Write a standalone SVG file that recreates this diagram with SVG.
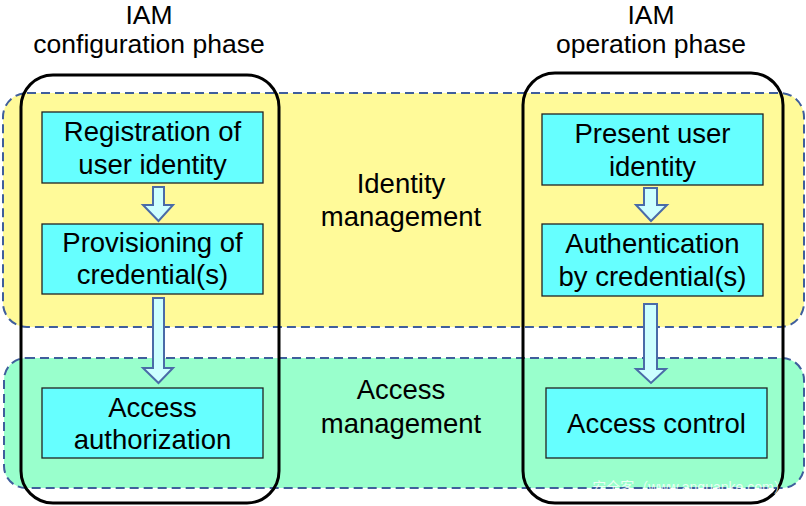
<svg xmlns="http://www.w3.org/2000/svg" width="806" height="506" viewBox="0 0 806 506">
<style>
.band{stroke:#3F5E9C;stroke-width:2;stroke-dasharray:9,5}
.phase{fill:none;stroke:#000;stroke-width:3}
.box{fill:#66FFFF;stroke:#222;stroke-width:1.3}
.arr{fill:#CCFFFF;stroke:#4A6BA8;stroke-width:2;stroke-linejoin:miter}
text{font-family:"Liberation Sans",Arial,sans-serif;fill:#000;text-anchor:middle}
.t{font-size:26.5px}
.b{font-size:27.5px}
</style>
<rect x="0" y="0" width="806" height="506" fill="#fff"/>
<g id="identity-management">
<rect class="band" x="3" y="93" width="801" height="234" rx="24" fill="#FFFA99"/>
<text class="b" x="401" y="193">Identity</text>
<text class="b" x="401" y="226">management</text>
</g>
<g id="access-management">
<rect class="band" x="4" y="358" width="800" height="130" rx="22" fill="#99FFCC"/>
<text class="b" x="401" y="399">Access</text>
<text class="b" x="401" y="433">management</text>
</g>
<g id="configuration-phase">
<rect class="phase" x="21" y="75" width="258" height="428" rx="32"/>
<text class="t" x="149" y="24">IAM</text>
<text class="t" x="149" y="53">configuration phase</text>
</g>
<g id="operation-phase">
<rect class="phase" x="523" y="73" width="260" height="430" rx="32"/>
<text class="t" x="651" y="24">IAM</text>
<text class="t" x="651" y="53">operation phase</text>
</g>
<g id="connectors">
<polygon class="arr" points="153,187 164,187 164,205 173,205 158.5,221 143,205 153,205"/>
<polygon class="arr" points="153,298 164,298 164,368 173,368 158.5,383 143,368 153,368"/>
<polygon class="arr" points="644,188 657,188 657,205 667,205 651,221 636,205 644,205"/>
<polygon class="arr" points="644,304 657,304 657,369 666,369 651,383 636,369 644,369"/>
</g>
<g id="registration">
<rect class="box" x="42" y="112" width="221" height="71"/>
<text class="b" x="152.5" y="141">Registration of</text>
<text class="b" x="152.5" y="174">user identity</text>
</g>
<g id="provisioning">
<rect class="box" x="42" y="224" width="221" height="70"/>
<text class="b" x="152.5" y="252">Provisioning of</text>
<text class="b" x="152.5" y="284">credential(s)</text>
</g>
<g id="access-authorization">
<rect class="box" x="42" y="388" width="221" height="70"/>
<text class="b" x="152.5" y="417">Access</text>
<text class="b" x="152.5" y="449">authorization</text>
</g>
<g id="present-identity">
<rect class="box" x="542" y="114" width="221" height="71"/>
<text class="b" x="652.5" y="143">Present user</text>
<text class="b" x="652.5" y="176">identity</text>
</g>
<g id="authentication">
<rect class="box" x="542" y="224" width="221" height="72"/>
<text class="b" x="652.5" y="253">Authentication</text>
<text class="b" x="652.5" y="286">by credential(s)</text>
</g>
<g id="access-control">
<rect class="box" x="546" y="388" width="221" height="70"/>
<text class="b" x="656.5" y="433">Access control</text>
</g>
<text x="690" y="492" style="font-family:'Liberation Sans','Noto Sans CJK SC',sans-serif;font-size:14px;fill:#fff;opacity:0.8">安全客（www.anquanke.com）</text>
</svg>
